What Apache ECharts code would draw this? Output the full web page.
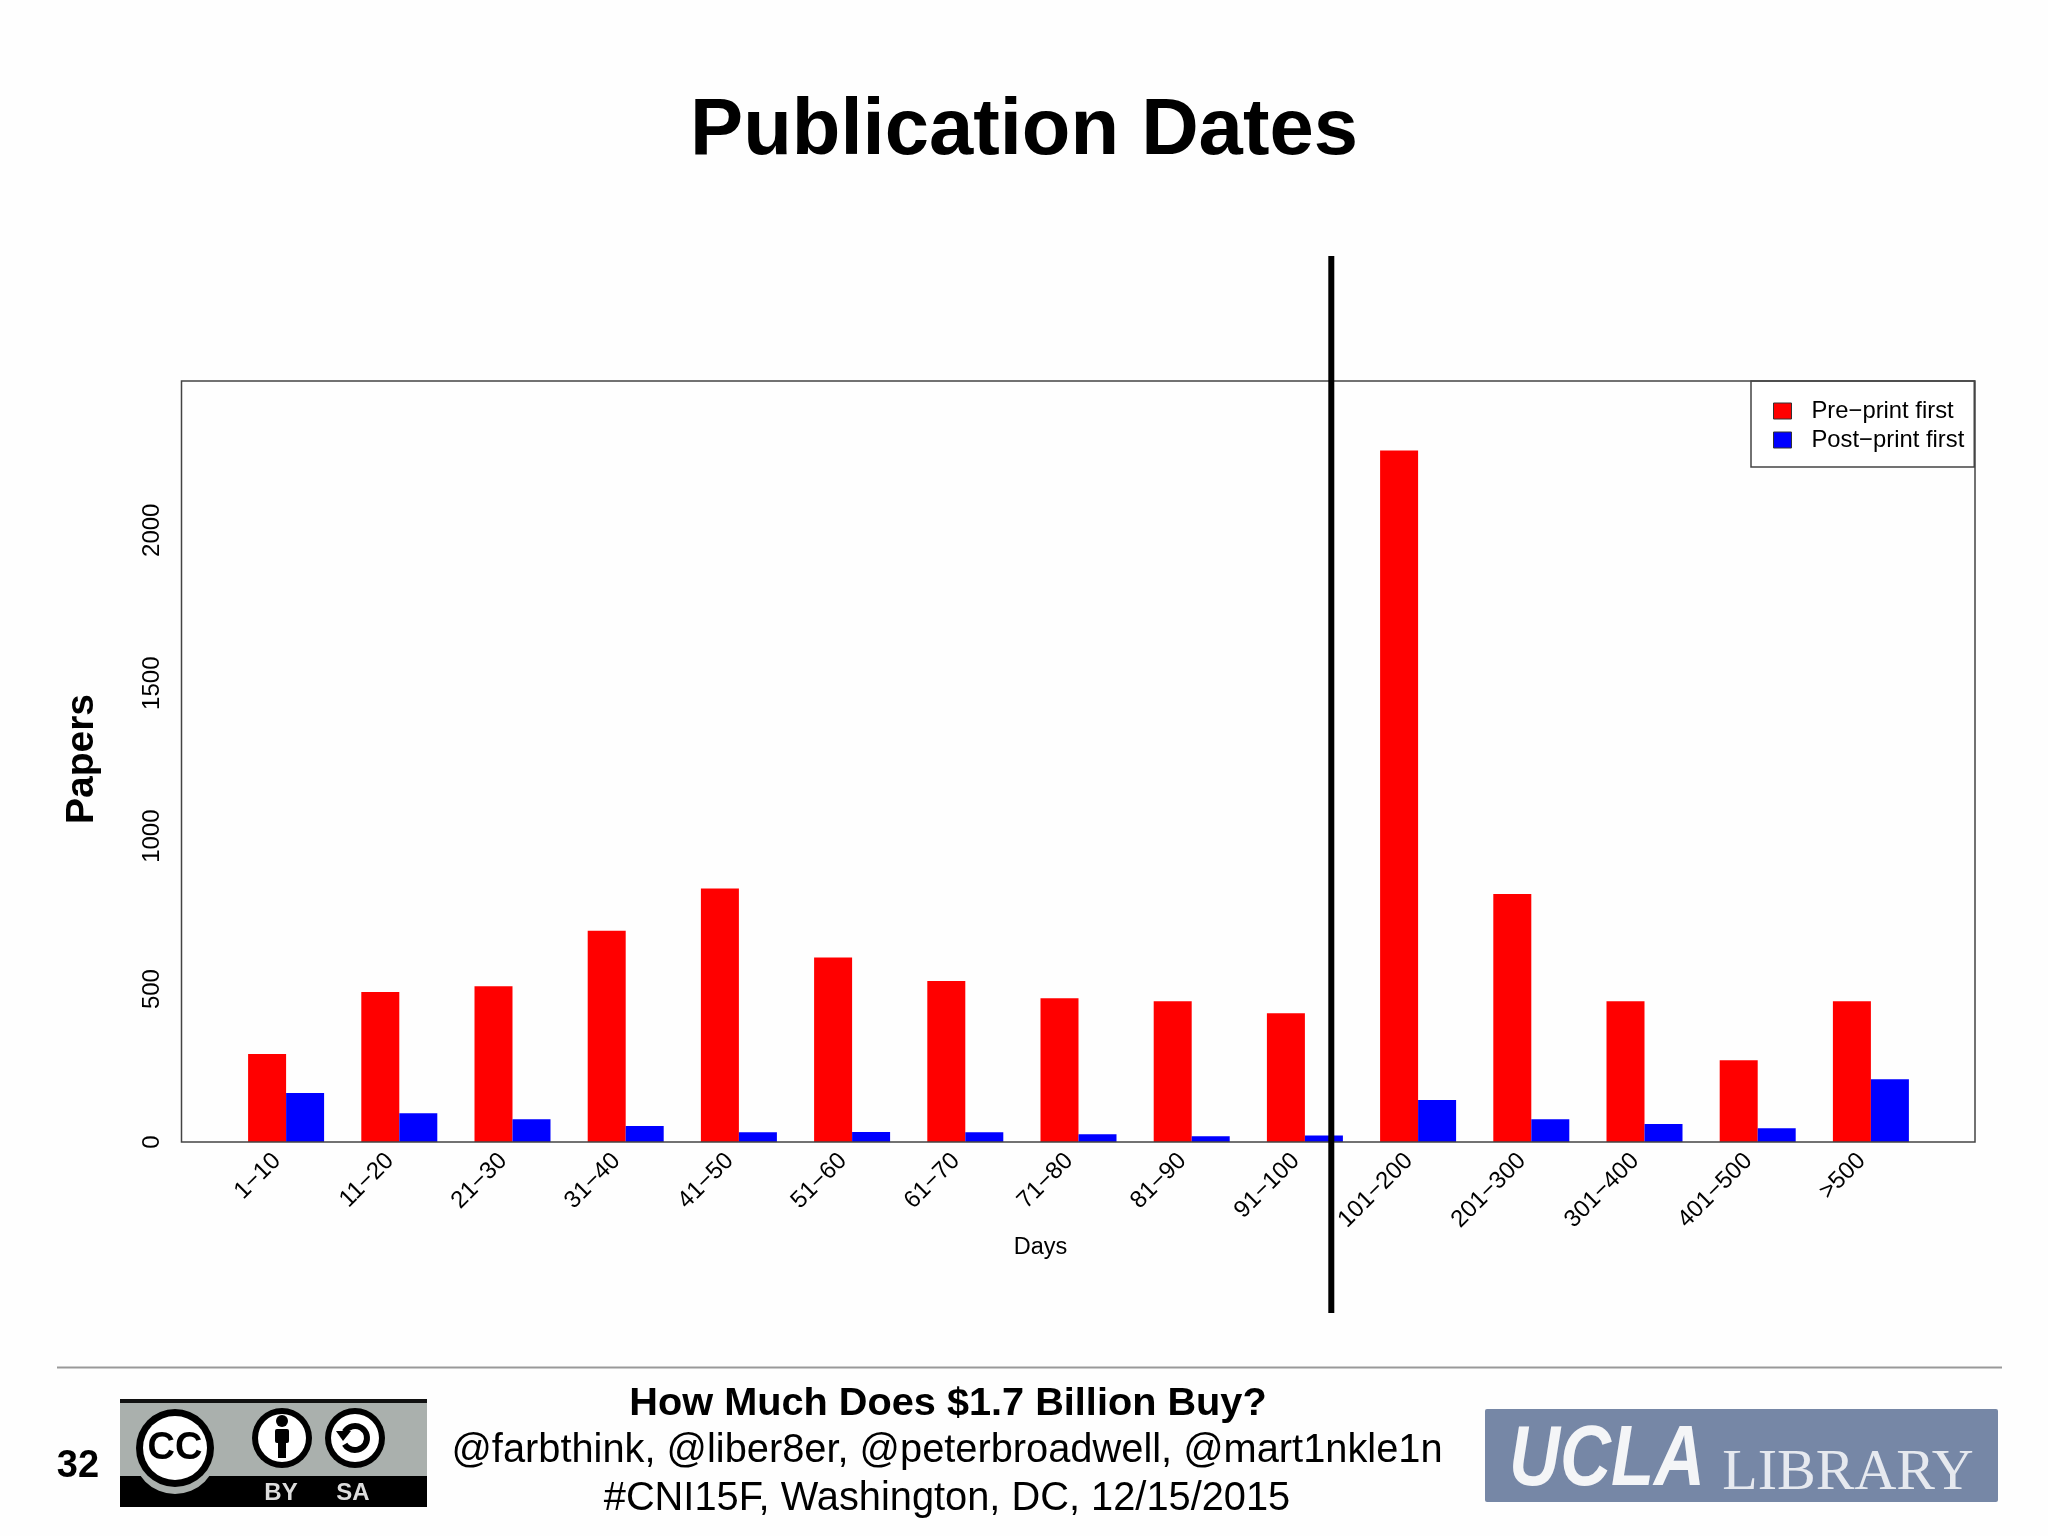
<!DOCTYPE html>
<html style="height: 100%">
<head>
<meta charset="utf-8">
<script src="https://cdn.jsdelivr.net/npm/echarts@6/dist/echarts.min.js"></script>
</head>
<body style="height: 100%; margin: 0; background: #fefefe;">
<div id="container" style="width: 2048px; height: 1536px;"></div>
<script>
// 数据
var categories = ['1\u221210', '11\u221220', '21\u221230', '31\u221240', '41\u221250', '51\u221260', '61\u221270', '71\u221280',
    '81\u221290', '91\u2212100', '101\u2212200', '201\u2212300', '301\u2212400', '401\u2212500', '>500'];
var preprintFirst = [288, 490, 509, 691, 829, 603, 526, 470, 460, 421, 2261, 811, 460, 267, 460];
var postprintFirst = [160, 94, 74, 52, 32, 33, 32, 25, 19, 21, 137, 74, 59, 45, 205];
var yTicks = [0, 500, 1000, 1500, 2000];
var seriesNames = ['Pre\u2212print first', 'Post\u2212print first'];
var footerLines = ['How Much Does $1.7 Billion Buy?', '@farbthink, @liber8er, @peterbroadwell, @mart1nkle1n', '#CNI15F, Washington, DC, 12/15/2015'];

var FONT = '"Liberation Sans"';

function label(x, y, text, font, fill, extra) {
    var el = {
        type: 'text', x: x, y: y, z: 20,
        style: {
            text: text, font: font, fill: fill || '#000',
            align: 'center', verticalAlign: 'middle',
            textAlign: 'center', textVerticalAlign: 'middle'
        }
    };
    for (var k in extra) el[k] = extra[k];
    return el;
}
function box(x, y, w, h, fill, r, z) {
    return { type: 'rect', z: z || 15, shape: { x: x, y: y, width: w, height: h, r: r || 0 }, style: { fill: fill } };
}
function disc(cx, cy, r, fill, z) {
    return { type: 'circle', z: z || 16, shape: { cx: cx, cy: cy, r: r }, style: { fill: fill } };
}

var graphics = [
    // 绘图区外框
    { type: 'rect', z: 10, shape: { x: 181.5, y: 381, width: 1793.5, height: 761 },
      style: { fill: 'none', stroke: '#444', lineWidth: 1.5 } },
    // 竖线
    { type: 'line', z: 12, shape: { x1: 1331.3, y1: 256, x2: 1331.3, y2: 1313 },
      style: { stroke: '#000', lineWidth: 6 } },
    // 页脚分隔线
    { type: 'line', z: 12, shape: { x1: 57, y1: 1367.5, x2: 2002, y2: 1367.5 },
      style: { stroke: '#999', lineWidth: 2 } },
    label(948, 1404, footerLines[0], 'bold 39.7px ' + FONT),
    label(947, 1451, footerLines[1], '39.8px ' + FONT),
    label(947, 1499, footerLines[2], '39.8px ' + FONT),
    label(78, 1467, '32', 'bold 38px ' + FONT),

    // CC BY-SA 徽标
    box(120, 1399, 307, 108, '#aab0ad', 2),
    box(120, 1399, 307, 4, '#111'),
    box(120, 1476, 307, 31, '#000'),
    disc(175, 1452, 42, '#aab0ad', 16),
    disc(175, 1448, 39, '#000', 17),
    disc(175, 1448, 32, '#fff', 18),
    label(175, 1449, 'CC', 'bold 38px ' + FONT, '#000'),
    disc(282, 1438, 30, '#000'),
    disc(282, 1438, 24, '#fff', 17),
    disc(282, 1421, 6, '#000', 18),
    box(275, 1429, 14, 14, '#000', 2, 18), box(278, 1429, 8, 29, '#000', 0, 18),
    disc(355, 1438, 30, '#000'),
    disc(355, 1438, 24, '#fff', 17),
    { type: 'arc', z: 18, shape: { cx: 355, cy: 1438, r: 12, startAngle: -2.6, endAngle: 2.6 },
      style: { fill: 'none', stroke: '#000', lineWidth: 6 } },
    { type: 'polygon', z: 18, shape: { points: [[336, 1431], [351, 1431], [343, 1441]] }, style: { fill: '#000' } },
    label(281, 1493, 'BY', 'bold 24px ' + FONT, '#ddd'),
    label(353, 1493, 'SA', 'bold 24px ' + FONT, '#ddd'),

    // UCLA 徽标
    box(1485, 1409, 513, 93, '#7687a6', 2),
    label(1607, 1461, 'UCLA', 'italic bold 86px ' + FONT, '#f4f5f7', { scaleX: 0.82, originX: 0, originY: 0 }),
    label(1848, 1474, 'LIBRARY', '58px "Liberation Serif"', '#e6e9ef')
];

var myChart = echarts.init(document.getElementById('container'));
var option = {
    animation: false,
    backgroundColor: '#fefefe',
    title: {
        text: 'Publication Dates',
        left: 1019,
        top: 87,
        textAlign: 'center',
        textStyle: { fontFamily: FONT, fontWeight: 'bold', fontSize: 79.6, color: '#000' }
    },
    legend: {
        orient: 'vertical',
        left: 1751,
        top: 381,
        padding: [18, 10, 15, 22],
        itemWidth: 18,
        itemHeight: 16,
        itemGap: 5,
        icon: 'rect',
        backgroundColor: '#fff',
        borderColor: '#444',
        borderWidth: 1.5,
        itemStyle: { borderColor: '#333', borderWidth: 1 },
        textStyle: { fontFamily: FONT, fontSize: 23.8, color: '#000', padding: [0, 0, 0, 15] },
        data: seriesNames
    },
    grid: { left: 229.5, width: 1698, top: 381, height: 761 },
    xAxis: {
        type: 'category',
        data: categories,
        name: 'Days',
        nameLocation: 'middle',
        nameGap: 94,
        nameTextStyle: { fontFamily: FONT, fontSize: 23.5, color: '#000', padding: [0, 76, 0, 0] },
        axisLine: { show: false },
        axisTick: { show: false },
        axisLabel: { interval: 0, rotate: 45, margin: 6, padding: [0, 13, 0, 0], fontFamily: FONT, fontSize: 24, color: '#000' }
    },
    yAxis: {
        type: 'value',
        min: 0,
        max: 2488,
        offset: 48,
        name: 'Papers',
        nameLocation: 'middle',
        nameGap: 80,
        nameTextStyle: { fontFamily: FONT, fontWeight: 'bold', fontSize: 39, color: '#000', padding: [0, 0, 0, 5] },
        splitLine: { show: false },
        axisLine: { show: false },
        axisTick: { length: 10, lineStyle: { color: '#444', width: 1.5 }, customValues: yTicks },
        axisLabel: { rotate: 90, margin: 17, fontFamily: FONT, fontSize: 24, color: '#000', customValues: yTicks,
            formatter: function (value) { return String(value); } }
    },
    series: [
        { name: seriesNames[0], type: 'bar', data: preprintFirst, barWidth: 38, barGap: '0%', itemStyle: { color: '#ff0000' } },
        { name: seriesNames[1], type: 'bar', data: postprintFirst, barWidth: 38, barGap: '0%', itemStyle: { color: '#0000ff' } }
    ],
    graphic: graphics
};
myChart.setOption(option, true);
</script>
</body>
</html>
